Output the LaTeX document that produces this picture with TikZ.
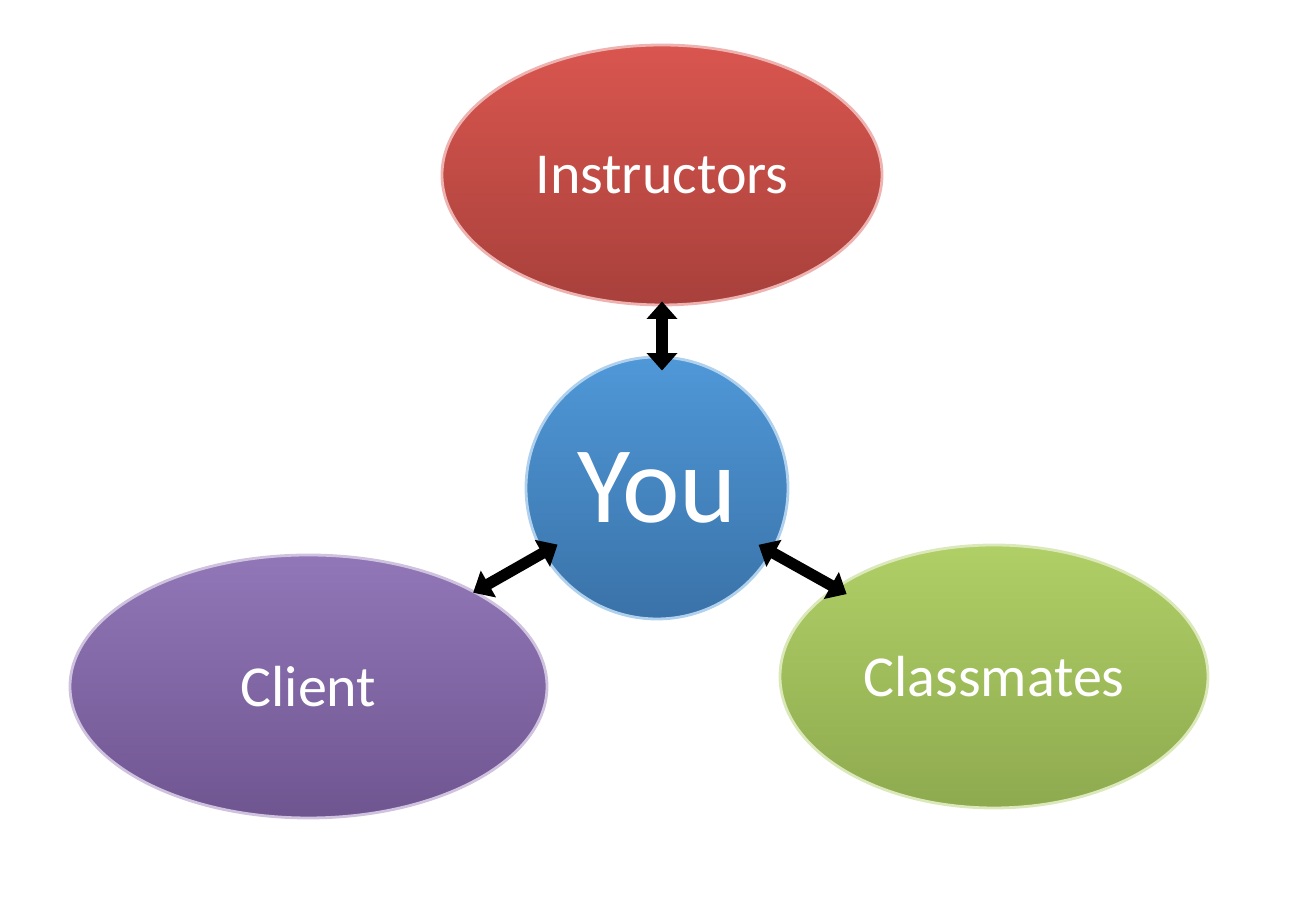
\documentclass[tikz,border=0pt]{standalone}
\usepackage{fontspec}
\setmainfont{Carlito}
\usepackage{tikz}
\usetikzlibrary{positioning,arrows.meta,shapes.geometric}
\definecolor{InstrTop}{HTML}{D9564F}
\definecolor{InstrBot}{HTML}{A8403B}
\definecolor{YouTop}{HTML}{4F98D8}
\definecolor{YouBot}{HTML}{3A72A8}
\definecolor{ClientTop}{HTML}{9277B8}
\definecolor{ClientBot}{HTML}{6F5590}
\definecolor{MatesTop}{HTML}{B0CF66}
\definecolor{MatesBot}{HTML}{8EAA4F}

\begin{document}
\begin{tikzpicture}[x=1cm,y=1cm,
    bubble/.style={ellipse, inner sep=0pt, text=white, line width=0.8pt,
        font=\fontsize{16.5}{20}\selectfont},
    link/.style={line width=3.2pt, black,
        {Triangle[length=5pt,width=8.5pt]}-{Triangle[length=5pt,width=8.5pt]}}]
  \useasboundingbox (0,0) rectangle (13.1,9.04);

  \node[bubble, minimum width=4.40cm, minimum height=2.60cm,
        top color=InstrTop, bottom color=InstrBot, draw=InstrTop!45!white]
        (instr) at (6.62,7.29) {Instructors};

  \node[circle, minimum size=2.62cm, inner sep=0pt, text=white,
        font=\fontsize{31}{36}\selectfont, line width=0.8pt,
        top color=YouTop, bottom color=YouBot, draw=YouTop!45!white]
        (you) at (6.57,4.16) {You};

  \node[bubble, minimum width=4.77cm, minimum height=2.63cm,
        top color=ClientTop, bottom color=ClientBot, draw=ClientTop!45!white]
        (client) at (3.085,2.175) {Client};

  \node[bubble, minimum width=4.28cm, minimum height=2.63cm,
        top color=MatesTop, bottom color=MatesBot, draw=MatesTop!45!white]
        (mates) at (9.94,2.275) {Classmates};

  \draw[link, shorten <=-0.05cm, shorten >=-0.15cm]
    (instr.south) -- (instr.south |- you.north);
  \draw[link, shorten <=-0.03cm, shorten >=-0.18cm] (client) -- (you);
  \draw[link, shorten <=-0.14cm, shorten >=-0.16cm] (mates) -- (you);
\end{tikzpicture}
\end{document}
